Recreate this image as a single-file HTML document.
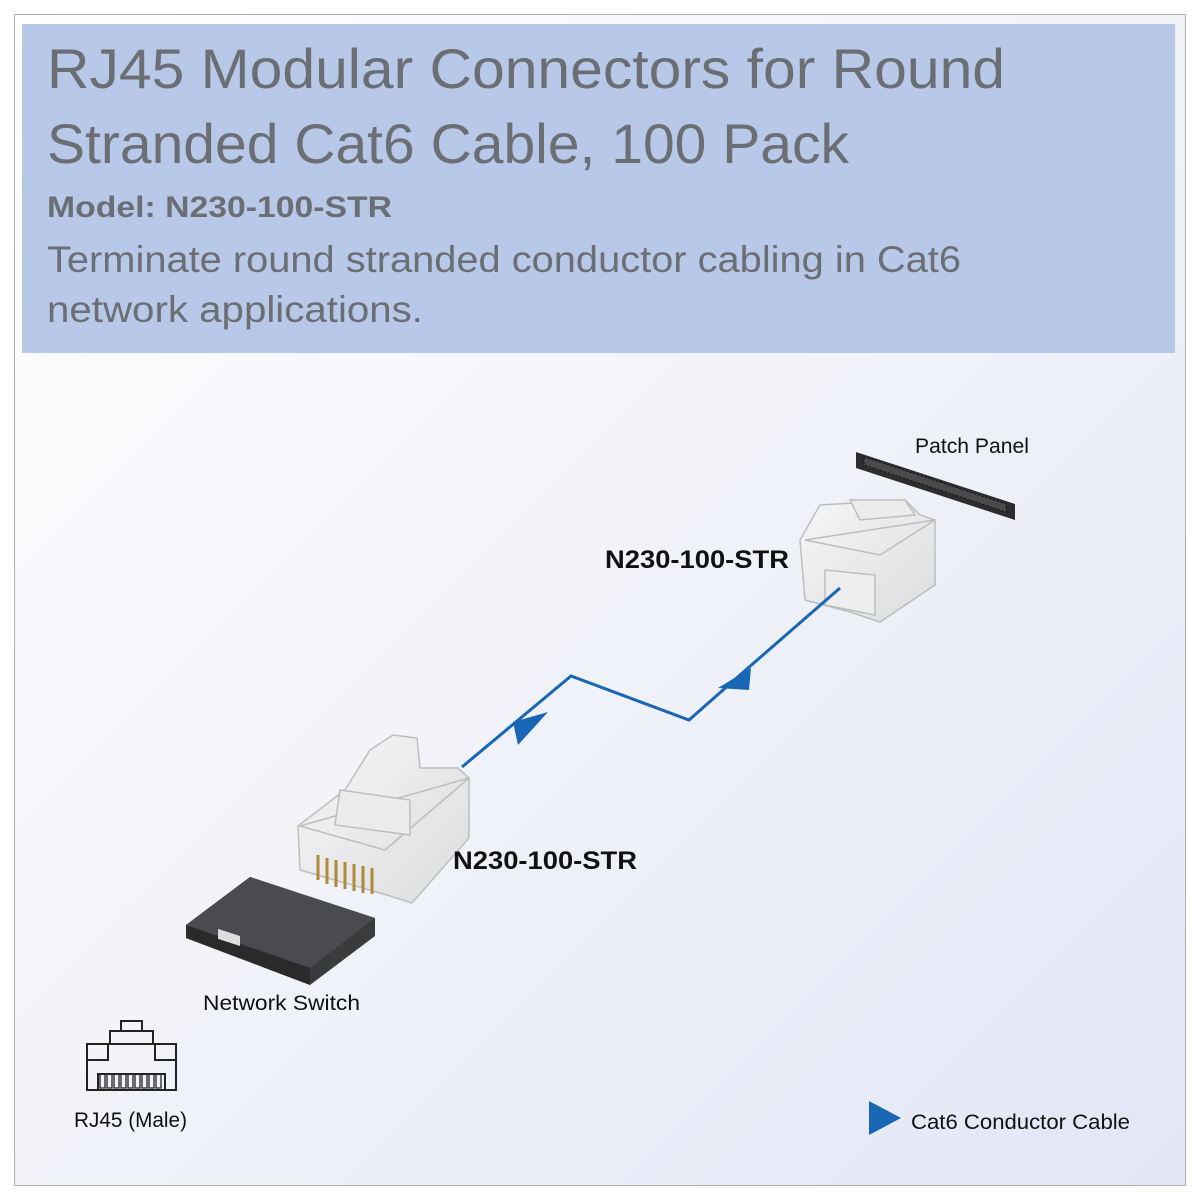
<!DOCTYPE html>
<html><head><meta charset="utf-8"><style>
html,body{margin:0;padding:0;background:#fff}
svg{display:block}
</style></head><body>
<svg width="1200" height="1200" viewBox="0 0 1200 1200" xmlns="http://www.w3.org/2000/svg" font-family="Liberation Sans, sans-serif">
<defs>
<linearGradient id="bg" x1="0" y1="0" x2="1" y2="1">
<stop offset="0" stop-color="#ffffff"/><stop offset="0.5" stop-color="#f1f3f9"/><stop offset="1" stop-color="#e2e6f6"/>
</linearGradient>
<linearGradient id="clr" x1="0" y1="0" x2="1" y2="1">
<stop offset="0" stop-color="#f7f7f7"/><stop offset="1" stop-color="#d8dadb"/>
</linearGradient>
</defs>
<rect x="14.5" y="14.5" width="1171" height="1171" fill="url(#bg)" stroke="#b0b0b0"/>
<rect x="22" y="24" width="1153" height="329" fill="#b8c8e8"/>
<g fill="#6b6e73">
<text x="47" y="88" font-size="56" textLength="958" lengthAdjust="spacingAndGlyphs">RJ45 Modular Connectors for Round</text>
<text x="47" y="163" font-size="56" textLength="802" lengthAdjust="spacingAndGlyphs">Stranded Cat6 Cable, 100 Pack</text>
<text x="47" y="217" font-size="30" font-weight="bold" textLength="345" lengthAdjust="spacingAndGlyphs">Model: N230-100-STR</text>
<text x="47" y="272" font-size="37" textLength="914" lengthAdjust="spacingAndGlyphs">Terminate round stranded conductor cabling in Cat6</text>
<text x="47" y="322" font-size="37" textLength="376" lengthAdjust="spacingAndGlyphs">network applications.</text>
</g>
<!-- patch panel -->
<polygon points="856,452 1015,504 1015,520 856,468" fill="#2d2d2f"/>
<polygon points="864,457 1006,504 1006,512 864,465" fill="#4a4a4c" stroke="#111" stroke-dasharray="2,2"/>
<text x="915" y="453" font-size="21" fill="#111" textLength="114" lengthAdjust="spacingAndGlyphs">Patch Panel</text>
<!-- top connector -->
<g stroke="#b5b5b5" stroke-width="1.5" fill="url(#clr)" opacity="0.85">
<polygon points="820,505 905,500 920,515 935,520 935,585 880,622 850,612 805,600 800,540"/>
<polygon points="805,540 880,555 935,520" fill="none"/>
<polygon points="825,570 875,575 875,615 825,605" fill="#eeeeee"/>
<polygon points="850,500 905,500 915,515 860,520" fill="#ececec"/>
</g>
<text x="605" y="568" font-size="25" font-weight="bold" fill="#111" textLength="184" lengthAdjust="spacingAndGlyphs">N230-100-STR</text>
<!-- cable -->
<polyline points="840,588 748,668 689,720 571,676 462,767" fill="none" stroke="#1866b4" stroke-width="3"/>
<polygon points="718,688 751,668 749,690" fill="#1866b4"/>
<polygon points="513,722 548,712 518,745" fill="#1866b4"/>
<!-- bottom connector -->
<g stroke="#b5b5b5" stroke-width="1.5" fill="url(#clr)" opacity="0.85">
<polygon points="393,735 417,738 420,768 458,768 469,778 469,838 412,903 387,895 300,870 298,826 345,790 370,750"/>
<polygon points="300,826 385,850 469,778" fill="none"/>
<polygon points="340,790 410,800 410,835 335,825" fill="#eaeaea"/>
</g>
<g stroke="#b08a3a" stroke-width="3">
<line x1="318" y1="855" x2="318" y2="880"/><line x1="327" y1="858" x2="327" y2="884"/><line x1="336" y1="860" x2="336" y2="887"/><line x1="345" y1="862" x2="345" y2="889"/><line x1="354" y1="864" x2="354" y2="891"/><line x1="363" y1="866" x2="363" y2="893"/><line x1="372" y1="868" x2="372" y2="894"/>
</g>
<text x="453" y="869" font-size="25" font-weight="bold" fill="#111" textLength="184" lengthAdjust="spacingAndGlyphs">N230-100-STR</text>
<!-- switch -->
<polygon points="186,925 250,877 375,918 375,936 310,985 186,938" fill="#3a3b3d"/>
<polygon points="186,925 250,877 375,918 310,968" fill="#4a4b4e"/>
<polygon points="186,925 310,968 310,985 186,938" fill="#2a2a2b"/>
<rect x="218" y="933" width="22" height="10" fill="#ddd" transform="skewY(18) translate(0,-75)"/>
<text x="203" y="1010" font-size="21" fill="#111" textLength="157" lengthAdjust="spacingAndGlyphs">Network Switch</text>
<!-- RJ45 icon -->
<g fill="none" stroke="#222" stroke-width="2">
<rect x="121" y="1021" width="21" height="10"/>
<rect x="110" y="1031" width="43" height="13"/>
<path d="M87,1044 H176 V1090 H87 Z M87,1044 V1060 H108 V1044 M155,1044 V1060 H176"/>
<path d="M98,1090 V1074 H165 V1090"/>
</g>
<g fill="none" stroke="#222" stroke-width="1.3">
<path d="M100,1074 v14 h5 v-14 M107,1074 v14 h5 v-14 M114,1074 v14 h5 v-14 M121,1074 v14 h5 v-14 M128,1074 v14 h5 v-14 M135,1074 v14 h5 v-14 M142,1074 v14 h5 v-14 M149,1074 v14 h5 v-14 M156,1074 v14 h5 v-14"/>
</g>
<text x="74" y="1127" font-size="21" fill="#111" textLength="113" lengthAdjust="spacingAndGlyphs">RJ45 (Male)</text>
<!-- legend -->
<polygon points="869,1101 901,1118 869,1135" fill="#1866b4"/>
<text x="911" y="1129" font-size="21" fill="#111" textLength="219" lengthAdjust="spacingAndGlyphs">Cat6 Conductor Cable</text>
</svg>
</body></html>
